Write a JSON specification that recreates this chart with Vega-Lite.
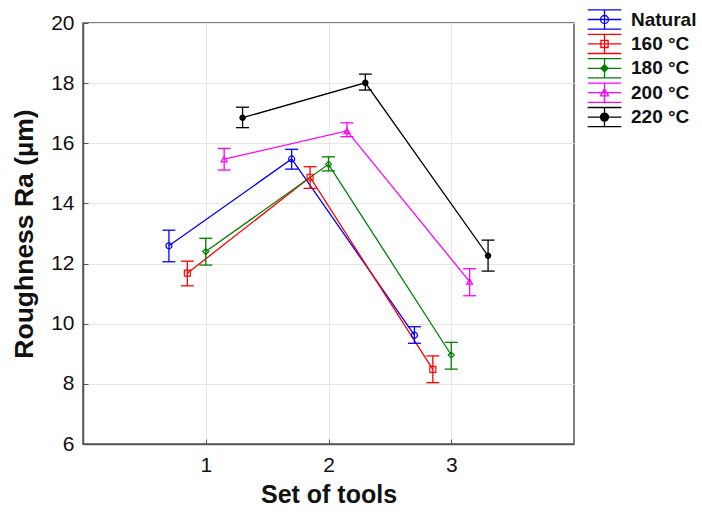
{
  "$schema": "https://vega.github.io/schema/vega-lite/v6.json",
  "autosize": {"type": "none"},
  "padding": {"left": 83, "top": 23, "right": 128, "bottom": 72},
  "width": 491,
  "height": 421,
  "background": "white",
  "config": {
    "view": {"stroke": "#555555", "strokeWidth": 1.5},
    "axis": {
      "labelFont": "Liberation Sans",
      "labelFontSize": 21,
      "labelColor": "#111111",
      "titleFont": "Liberation Sans",
      "titleFontSize": 25,
      "titleFontWeight": "bold",
      "titleColor": "#111111",
      "gridColor": "#e6e6e6",
      "gridWidth": 1,
      "domainColor": "#555555",
      "domainWidth": 1.5,
      "tickColor": "#555555",
      "tickSize": -5
    }
  },
  "data": {
    "values": [
      {"series": "Natural", "pos": 0.7, "mean": 12.59, "lo": 12.06, "hi": 13.11},
      {"series": "Natural", "pos": 1.7, "mean": 15.48, "lo": 15.14, "hi": 15.80},
      {"series": "Natural", "pos": 2.7, "mean": 9.62, "lo": 9.35, "hi": 9.90},
      {"series": "160 °C", "pos": 0.85, "mean": 11.68, "lo": 11.26, "hi": 12.08},
      {"series": "160 °C", "pos": 1.85, "mean": 14.87, "lo": 14.50, "hi": 15.22},
      {"series": "160 °C", "pos": 2.85, "mean": 8.48, "lo": 8.04, "hi": 8.93},
      {"series": "180 °C", "pos": 1.0, "mean": 12.40, "lo": 11.95, "hi": 12.84},
      {"series": "180 °C", "pos": 2.0, "mean": 15.30, "lo": 15.08, "hi": 15.55},
      {"series": "180 °C", "pos": 3.0, "mean": 8.96, "lo": 8.49, "hi": 9.38},
      {"series": "200 °C", "pos": 1.15, "mean": 15.47, "lo": 15.11, "hi": 15.83},
      {"series": "200 °C", "pos": 2.15, "mean": 16.41, "lo": 16.22, "hi": 16.68},
      {"series": "200 °C", "pos": 3.15, "mean": 11.40, "lo": 10.93, "hi": 11.83},
      {"series": "220 °C", "pos": 1.3, "mean": 16.85, "lo": 16.52, "hi": 17.20},
      {"series": "220 °C", "pos": 2.3, "mean": 18.01, "lo": 17.77, "hi": 18.30},
      {"series": "220 °C", "pos": 3.3, "mean": 12.26, "lo": 11.75, "hi": 12.78}
    ]
  },
  "encoding": {
    "x": {
      "field": "pos",
      "type": "quantitative",
      "scale": {"domain": [0, 4], "nice": false, "zero": false},
      "axis": {"values": [1, 2, 3], "format": "d", "title": "Set of tools", "labelPadding": 15, "titlePadding": 7}
    },
    "color": {
      "field": "series",
      "type": "nominal",
      "title": null,
      "scale": {
        "domain": ["Natural", "160 °C", "180 °C", "200 °C", "220 °C"],
        "range": ["#0000ff", "#ff0000", "#008000", "#ff00ff", "#000000"]
      },
      "legend": {
        "title": null,
        "orient": "none",
        "legendX": 512,
        "legendY": -13,
        "symbolSize": 256,
        "symbolStrokeWidth": 1.3,
        "symbolOpacity": 1,
        "symbolFillColor": "transparent",
        "labelFont": "Liberation Sans",
        "labelFontSize": 19,
        "labelFontWeight": "bold",
        "labelColor": "#111111",
        "labelOffset": 17,
        "rowPadding": -0.6
      }
    }
  },
  "layer": [
    {
      "mark": {"type": "line", "strokeWidth": 1.3},
      "encoding": {
        "y": {
          "field": "mean",
          "type": "quantitative",
          "scale": {"domain": [6, 20], "nice": false, "zero": false},
          "axis": {"values": [6, 8, 10, 12, 14, 16, 18, 20], "title": "Roughness Ra (µm)", "titleFontSize": 26.5, "labelPadding": 14, "titlePadding": 12}
        }
      }
    },
    {
      "mark": {"type": "rule", "strokeWidth": 1.3},
      "encoding": {
        "y": {"field": "lo", "type": "quantitative", "title": "Roughness Ra (µm)"},
        "y2": {"field": "hi"}
      }
    },
    {
      "mark": {"type": "point", "shape": "stroke", "filled": false, "strokeWidth": 1.3, "size": 169, "opacity": 1},
      "encoding": {"y": {"field": "lo", "type": "quantitative", "title": "Roughness Ra (µm)"}}
    },
    {
      "mark": {"type": "point", "shape": "stroke", "filled": false, "strokeWidth": 1.3, "size": 169, "opacity": 1},
      "encoding": {"y": {"field": "hi", "type": "quantitative", "title": "Roughness Ra (µm)"}}
    },
    {
      "transform": [{"filter": "datum.series === 'Natural'"}],
      "mark": {"type": "point", "shape": "circle", "filled": false, "strokeWidth": 1.2, "size": 36, "opacity": 1},
      "encoding": {"y": {"field": "mean", "type": "quantitative"}}
    },
    {
      "transform": [{"filter": "datum.series === '160 °C'"}],
      "mark": {"type": "point", "shape": "square", "filled": false, "strokeWidth": 1.2, "size": 36, "opacity": 1},
      "encoding": {"y": {"field": "mean", "type": "quantitative"}}
    },
    {
      "transform": [{"filter": "datum.series === '180 °C'"}],
      "mark": {"type": "point", "shape": "diamond", "filled": false, "strokeWidth": 1.2, "size": 36, "opacity": 1},
      "encoding": {"y": {"field": "mean", "type": "quantitative"}}
    },
    {
      "transform": [{"filter": "datum.series === '200 °C'"}],
      "mark": {"type": "point", "shape": "triangle-up", "filled": false, "strokeWidth": 1.2, "size": 36, "opacity": 1},
      "encoding": {"y": {"field": "mean", "type": "quantitative"}}
    },
    {
      "transform": [{"filter": "datum.series === '220 °C'"}],
      "mark": {"type": "point", "shape": "circle", "filled": false, "strokeWidth": 3, "size": 12, "opacity": 1},
      "encoding": {"y": {"field": "mean", "type": "quantitative"}}
    },
    {
      "mark": {"type": "point", "filled": false, "opacity": 0},
      "encoding": {
        "y": {"field": "mean", "type": "quantitative"},
        "shape": {
          "field": "series",
          "type": "nominal",
          "title": null,
          "scale": {
            "domain": ["Natural", "160 °C", "180 °C", "200 °C", "220 °C"],
            "range": [
              "M-2.1,-1.2H2.1M-2.1,0H2.1M-2.1,1.2H2.1M0,-1.2V1.2M0.5,0A0.5,0.5 0 1,1 -0.5,0A0.5,0.5 0 1,1 0.5,0Z",
              "M-2.1,-1.2H2.1M-2.1,0H2.1M-2.1,1.2H2.1M0,-1.2V1.2M-0.45,-0.45H0.45V0.45H-0.45Z",
              "M-2.1,-1.2H2.1M-2.1,0H2.1M-2.1,1.2H2.1M0,-1.2V1.2M0,-0.45L0.45,0L0,0.45L-0.45,0ZM0,-0.3L0.3,0L0,0.3L-0.3,0ZM0,-0.15L0.15,0L0,0.15L-0.15,0Z",
              "M-2.1,-1.2H2.1M-2.1,0H2.1M-2.1,1.2H2.1M0,-1.2V1.2M0,-0.5L0.5,0.4H-0.5Z",
              "M-2.1,-1.2H2.1M-2.1,0H2.1M-2.1,1.2H2.1M0,-1.2V1.2M0.5,0A0.5,0.5 0 1,1 -0.5,0A0.5,0.5 0 1,1 0.5,0ZM0.38,0A0.38,0.38 0 1,1 -0.38,0A0.38,0.38 0 1,1 0.38,0ZM0.26,0A0.26,0.26 0 1,1 -0.26,0A0.26,0.26 0 1,1 0.26,0ZM0.14,0A0.14,0.14 0 1,1 -0.14,0A0.14,0.14 0 1,1 0.14,0ZM0.05,0A0.05,0.05 0 1,1 -0.05,0A0.05,0.05 0 1,1 0.05,0Z"
            ]
          }
        }
      }
    }
  ]
}
